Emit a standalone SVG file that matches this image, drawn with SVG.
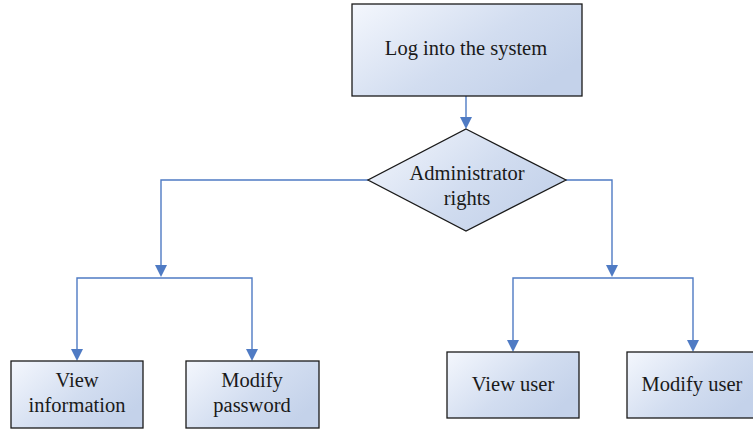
<svg xmlns="http://www.w3.org/2000/svg" width="753" height="430" viewBox="0 0 753 430">
<defs>
<linearGradient id="g" x1="0" y1="0" x2="1" y2="0.6">
<stop offset="0" stop-color="#f4f7fd"/>
<stop offset="0.6" stop-color="#d2ddf0"/>
<stop offset="1" stop-color="#c4d2ea"/>
</linearGradient>
<style>
.n{fill:url(#g);stroke:#1a1a1a;stroke-width:1.3}
.t{font-family:"Liberation Serif",serif;font-size:20.5px;fill:#1a1a1a;text-anchor:middle}
.c{fill:none;stroke:#4f7bc4;stroke-width:1.4}
.a{fill:#4f7bc4}
</style>
</defs>
<rect width="753" height="430" fill="#fff"/>
<g id="connectors">
<path class="c" d="M466,96 V118"/>
<path class="a" d="M460,117 L472,117 L466,129 z"/>
<path class="c" d="M368,180 H161 V266"/>
<path class="a" d="M155,265 L167,265 L161,277 z"/>
<path class="c" d="M77,350 V278 H252 V350"/>
<path class="a" d="M71,349 L83,349 L77,361 z"/>
<path class="a" d="M246,349 L258,349 L252,361 z"/>
<path class="c" d="M566,180 H612 V266"/>
<path class="a" d="M606,265 L618,265 L612,277 z"/>
<path class="c" d="M513,341 V278 H693 V341"/>
<path class="a" d="M507,340 L519,340 L513,352 z"/>
<path class="a" d="M687,340 L699,340 L693,352 z"/>
</g>
<g id="login">
<rect class="n" x="352" y="4" width="230" height="92"/>
<text class="t" x="466" y="55">Log into the system</text>
</g>
<g id="admin">
<polygon class="n" points="466,129 566,180 466,231 368,180"/>
<text class="t" x="467" y="180">Administrator</text>
<text class="t" x="467" y="205">rights</text>
</g>
<g id="viewinfo">
<rect class="n" x="11" y="361" width="132" height="67"/>
<text class="t" x="77" y="387">View</text>
<text class="t" x="77" y="412">information</text>
</g>
<g id="modpass">
<rect class="n" x="186" y="361" width="133" height="67"/>
<text class="t" x="252" y="387">Modify</text>
<text class="t" x="252" y="412">password</text>
</g>
<g id="viewuser">
<rect class="n" x="447" y="352" width="132" height="66"/>
<text class="t" x="513" y="391">View user</text>
</g>
<g id="moduser">
<rect class="n" x="627" y="352" width="130" height="66"/>
<text class="t" x="692" y="391">Modify user</text>
</g>
</svg>
